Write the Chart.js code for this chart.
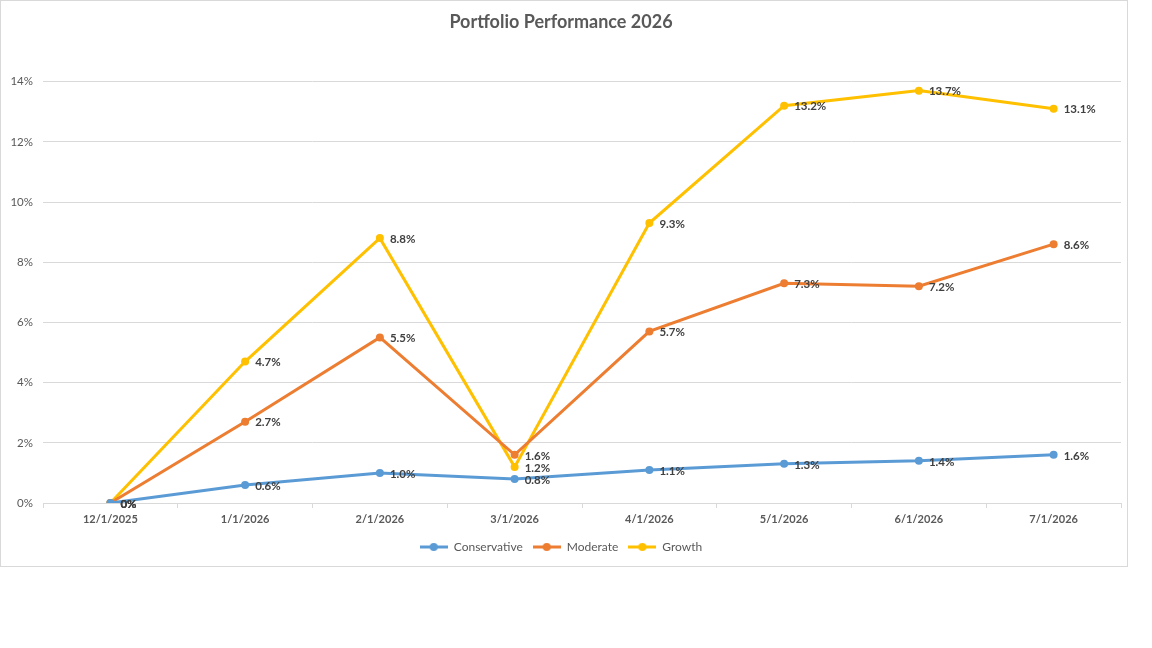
<!DOCTYPE html>
<html>
<head>
<meta charset="utf-8">
<script src="https://cdn.jsdelivr.net/npm/chart.js@4.4.1/dist/chart.umd.min.js"></script>
<style>
    html, body { margin: 0; padding: 0; background: #fff; }
    #wrap {
        position: absolute; left: 0; top: 0;
        width: 1128px; height: 567px;
        border: 1px solid #d9d9d9;
        box-sizing: border-box;
    }
</style>
</head>
<body>
<div id="wrap"><canvas id="perfChart"></canvas></div>
<script>
    const dates = ['12/1/2025', '1/1/2026', '2/1/2026', '3/1/2026', '4/1/2026', '5/1/2026', '6/1/2026', '7/1/2026'];
    const conservative = [0, 0.6, 1.0, 0.8, 1.1, 1.3, 1.4, 1.6];
    const moderate = [0, 2.7, 5.5, 1.6, 5.7, 7.3, 7.2, 8.6];
    const growth = [0, 4.7, 8.8, 1.2, 9.3, 13.2, 13.7, 13.1];
    const yTicks = [0, 2, 4, 6, 8, 10, 12, 14];

    const seriesColors = ['#5B9BD5', '#ED7D31', '#FFC000'];
    const FONT = 'Lato, "Open Sans", sans-serif';

    // small line+dot marker for the legend, like Excel
    function legendMarker(color) {
        const c = document.createElement('canvas');
        c.width = 28; c.height = 10;
        const g = c.getContext('2d');
        g.strokeStyle = color;
        g.lineWidth = 3;
        g.beginPath(); g.moveTo(0, 5); g.lineTo(28, 5); g.stroke();
        g.fillStyle = color;
        g.beginPath(); g.arc(14, 5, 4, 0, Math.PI * 2); g.fill();
        return c;
    }

    const dataLabels = {
        id: 'dataLabels',
        afterDatasetsDraw(chart) {
            const ctx = chart.ctx;
            ctx.save();
            ctx.font = 'bold 11.5px ' + FONT;
            ctx.fillStyle = '#404040';
            ctx.textAlign = 'left';
            ctx.textBaseline = 'middle';
            chart.data.datasets.forEach((ds, i) => {
                const meta = chart.getDatasetMeta(i);
                meta.data.forEach((pt, j) => {
                    const v = ds.data[j];
                    const txt = v === 0 ? '0%' : v.toFixed(1) + '%';
                    ctx.fillText(txt, pt.x + 10, pt.y + 1);
                });
            });
            ctx.restore();
        }
    };

    function makeSet(label, data, color) {
        return {
            label: label,
            data: data,
            borderColor: color,
            backgroundColor: color,
            borderWidth: 3,
            pointRadius: 4,
            pointBorderWidth: 0,
            pointBackgroundColor: color,
            tension: 0,
            fill: false
        };
    }

    const ctx = document.getElementById('perfChart').getContext('2d');
    new Chart(ctx, {
        type: 'line',
        data: {
            labels: dates,
            datasets: [
                makeSet('Conservative', conservative, seriesColors[0]),
                makeSet('Moderate', moderate, seriesColors[1]),
                makeSet('Growth', growth, seriesColors[2])
            ]
        },
        plugins: [dataLabels],
        options: {
            responsive: true,
            maintainAspectRatio: false,
            animation: false,
            layout: { padding: { left: 0, right: 6, top: 0, bottom: 3 } },
            plugins: {
                title: {
                    display: true,
                    text: 'Portfolio Performance 2026',
                    color: '#595959',
                    font: { family: FONT, size: 18, weight: 'bold' },
                    padding: { top: 10, bottom: 49 }
                },
                legend: {
                    display: true,
                    position: 'bottom',
                    labels: {
                        color: '#595959',
                        font: { family: FONT, size: 12 },
                        usePointStyle: true,
                        pointStyleWidth: 28,
                        padding: 10,
                        generateLabels: chart => chart.data.datasets.map((ds, i) => ({
                            text: ds.label,
                            fontColor: '#595959',
                            pointStyle: legendMarker(ds.borderColor),
                            strokeStyle: ds.borderColor,
                            fillStyle: ds.borderColor,
                            lineWidth: 0,
                            datasetIndex: i
                        }))
                    }
                },
                tooltip: { enabled: false }
            },
            scales: {
                x: {
                    offset: true,
                    grid: {
                        offset: true,
                        drawOnChartArea: false,
                        drawTicks: true,
                        tickLength: 5,
                        color: '#d9d9d9'
                    },
                    border: { display: true, color: '#d9d9d9', width: 1 },
                    ticks: {
                        color: '#595959',
                        font: { family: FONT, size: 11, weight: 'bold' },
                        padding: 5,
                        maxRotation: 0
                    },
                    afterFit: scale => { scale.height = 28; }
                },
                y: {
                    min: 0,
                    max: 14,
                    afterBuildTicks: scale => { scale.ticks = yTicks.map(v => ({ value: v })); },
                    grid: { color: '#d9d9d9', drawTicks: false, lineWidth: 1 },
                    border: { display: false },
                    ticks: {
                        color: '#595959',
                        font: { family: FONT, size: 11.5 },
                        padding: 10,
                        callback: v => v + '%'
                    },
                    afterFit: scale => { scale.width = 42; }
                }
            }
        }
    });
</script>
</body>
</html>
